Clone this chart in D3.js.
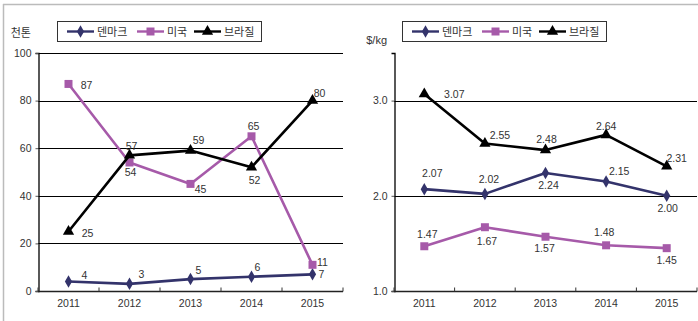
<!DOCTYPE html>
<html>
<head>
<meta charset="utf-8">
<script src="https://cdn.jsdelivr.net/npm/d3@7"></script>
<style>
  body { margin: 0; background: #fff; }
  svg text { font-family: "Liberation Sans", Arial, sans-serif; fill: #333; }
  .kr { font-family: "Noto Sans CJK KR", sans-serif; }
</style>
</head>
<body>
<svg id="chart" width="698" height="321"></svg>
<script>
// data
const years = ['2011', '2012', '2013', '2014', '2015']
const seriesNames = ['덴마크', '미국', '브라질']
const seriesColors = ['#33336b', '#a65aa9', '#000000']
const seriesMarkers = ['diamond', 'square', 'triangle']

// volume (천톤)
const volDenmark = [4, 3, 5, 6, 7]
const volUSA = [87, 54, 45, 65, 11]
const volBrazil = [25, 57, 59, 52, 80]
const volTicks = [0, 20, 40, 60, 80, 100]

// price ($/kg)
const priceDenmark = [2.07, 2.02, 2.24, 2.15, 2.00]
const priceUSA = [1.47, 1.67, 1.57, 1.48, 1.45]
const priceBrazil = [3.07, 2.55, 2.48, 2.64, 2.31]
const priceTicks = [1.0, 2.0, 3.0]

// label offsets from the marker [dx, dy] (layout only)
const volLabelPos = [
    [[16, -6], [12, -10], [8, -9], [6, -10], [9, 0]],
    [[18, 1], [1, 10], [10, 5], [2, -10], [10, -3]],
    [[19, 2], [2, -9], [8, -10], [3, 13], [7, -7]]
]
const priceLabelPos = [
    [[8, -16], [4, -15], [3, 12], [13, -10], [1, 12]],
    [[3, -12], [2, 14], [-1, 11], [-2, -13], [0, 12]],
    [[30, 0], [15, -8], [1, -11], [0, -9], [10, -8]]
]

const svg = d3.select('#chart')

// frame lines
svg.append('line').attr('x1', 3).attr('x2', 698).attr('y1', 4.5).attr('y2', 4.5)
    .attr('stroke', '#bbb').attr('stroke-width', 1.5)
svg.append('line').attr('x1', 3.5).attr('x2', 3.5).attr('y1', 4).attr('y2', 321)
    .attr('stroke', '#bbb').attr('stroke-width', 1.5)

const symbolFor = {
    diamond: d3.symbol().type(d3.symbolDiamond).size(45),
    square: d3.symbol().type(d3.symbolSquare).size(64),
    triangle: d3.symbol().type(d3.symbolTriangle).size(55)
}

function drawPanel(opt) {
    const g = svg.append('g')
    const x = d3.scaleBand().domain(years).range([opt.left, opt.right])
    const y = d3.scaleLinear().domain(opt.domain).range([291, 53])
    const cx = d => x(d) + x.bandwidth() / 2

    // gridlines
    g.append('g').selectAll('line')
        .data(opt.grid)
        .enter().append('line')
        .attr('x1', opt.left).attr('x2', opt.right)
        .attr('y1', d => Math.round(y(d)) + 0.5).attr('y2', d => Math.round(y(d)) + 0.5)
        .attr('stroke', '#000').attr('stroke-width', 1)

    // y axis
    const yAxis = d3.axisLeft(y).tickValues(opt.ticks).tickSize(3).tickFormat(opt.tickFormat)
    const ya = g.append('g').attr('transform', `translate(${opt.left + 0.5}, 0)`).call(yAxis)
    ya.select('.domain').attr('stroke', '#000').attr('stroke-width', 1.3)
    ya.selectAll('.tick line').attr('stroke', '#555')
    ya.selectAll('.tick text').attr('x', -7).attr('font-size', 10.5).attr('fill', '#333')
        .attr('font-family', '"Liberation Sans", Arial, sans-serif')

    // x axis with tick marks pointing up between categories
    const xa = g.append('g').attr('transform', 'translate(0, 291.5)')
    xa.append('line').attr('x1', opt.left).attr('x2', opt.right)
        .attr('stroke', '#222').attr('stroke-width', 1.3)
    xa.selectAll('.sep')
        .data(years.concat(['end']))
        .enter().append('line')
        .attr('x1', (d, i) => i < years.length ? x(d) : opt.right)
        .attr('x2', (d, i) => i < years.length ? x(d) : opt.right)
        .attr('y1', -4).attr('y2', 0)
        .attr('stroke', '#333')
    xa.selectAll('.yl')
        .data(years)
        .enter().append('text')
        .attr('x', d => cx(d))
        .attr('y', 15)
        .attr('text-anchor', 'middle')
        .attr('font-size', 10.5)
        .text(d => d)

    // unit
    svg.append('text').attr('class', opt.unitClass)
        .attr('x', opt.unitX).attr('y', opt.unitY)
        .attr('text-anchor', 'end')
        .attr('font-size', 11)
        .text(opt.unit)

    // series
    const line = d3.line().x(d => cx(d.year)).y(d => y(d.v))
    opt.series.forEach((vals, si) => {
        const pts = vals.map((v, i) => ({ year: years[i], v: v, off: opt.labelPos[si][i] }))
        g.append('path')
            .datum(pts)
            .attr('d', line)
            .attr('fill', 'none')
            .attr('stroke', seriesColors[si])
            .attr('stroke-width', 2.6)
            .attr('stroke-linejoin', 'round')
        g.append('g').selectAll('path')
            .data(pts)
            .enter().append('path')
            .attr('d', symbolFor[seriesMarkers[si]])
            .attr('transform', d => `translate(${cx(d.year)}, ${y(d.v)})`)
            .attr('fill', seriesColors[si])
        g.append('g').selectAll('text')
            .data(pts)
            .enter().append('text')
            .attr('x', d => cx(d.year) + d.off[0])
            .attr('y', d => y(d.v) + d.off[1])
            .attr('dy', '0.36em')
            .attr('text-anchor', 'middle')
            .attr('font-size', 10.5)
            .text(d => opt.labelFormat(d.v))
    })

    // legend
    const lg = svg.append('g').attr('transform', `translate(${opt.legendX}, 21)`)
    lg.append('rect').attr('x', 0.5).attr('y', 0.5).attr('width', 204).attr('height', 20)
        .attr('fill', '#fff').attr('stroke', '#333').attr('stroke-width', 1)
    const itemX = [10, 80, 137]
    seriesNames.forEach((name, si) => {
        const ix = itemX[si]
        lg.append('line').attr('x1', ix).attr('x2', ix + 27).attr('y1', 10.5).attr('y2', 10.5)
            .attr('stroke', seriesColors[si]).attr('stroke-width', 2.4)
        lg.append('path').attr('d', symbolFor[seriesMarkers[si]])
            .attr('transform', `translate(${ix + 13.5}, 10.5)`)
            .attr('fill', seriesColors[si])
        lg.append('text').attr('class', 'kr')
            .attr('x', ix + 30).attr('y', 14.5)
            .attr('font-size', 11)
            .text(name)
    })
}

drawPanel({
    left: 38, right: 343,
    domain: [0, 100],
    ticks: volTicks,
    grid: [20, 40, 60, 80, 100],
    tickFormat: d3.format('d'),
    labelFormat: d3.format('d'),
    series: [volDenmark, volUSA, volBrazil],
    labelPos: volLabelPos,
    unit: '천톤', unitClass: 'kr', unitX: 31, unitY: 37,
    legendX: 57
})

drawPanel({
    left: 394, right: 697,
    domain: [1, 3.5],
    ticks: priceTicks,
    grid: [2.0, 3.0],
    tickFormat: d3.format('.1f'),
    labelFormat: d3.format('.2f'),
    series: [priceDenmark, priceUSA, priceBrazil],
    labelPos: priceLabelPos,
    unit: '$/kg', unitClass: '', unitX: 387, unitY: 44,
    legendX: 402
})
</script>
</body>
</html>
